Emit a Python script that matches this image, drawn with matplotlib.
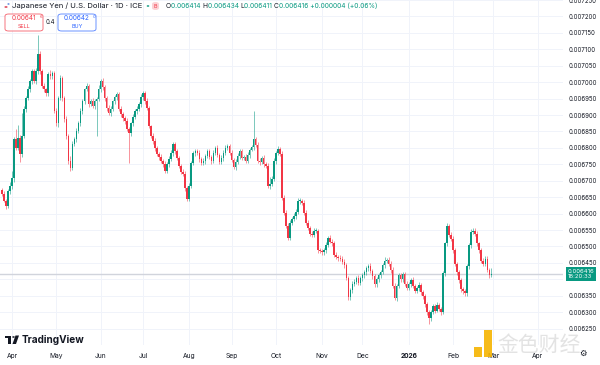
import numpy as np
import pandas as pd
import matplotlib.pyplot as plt
from matplotlib.patches import FancyBboxPatch, Rectangle, Circle, Polygon
from matplotlib.transforms import blended_transform_factory

plt.rcParams['font.family'] = ['Inter', 'DejaVu Sans']

# daily closes, JPY/USD in units of 1e-6 (from 2025-03-25)
closes = [
    6660, 6639, 6624, 6669, 6685, 6709, 6827, 6800, 6830, 6781, 6836, 6918, 6951, 6978, 7003, 7033, 7003, 7033, 7087, 7033,
    6987, 6978, 6966, 7024, 7018, 7027, 6912, 6875, 6951, 7012, 6951, 6887, 6836, 6760, 6739, 6812, 6827, 6851, 6875, 6912,
    6942, 6978, 6987, 6933, 6942, 6927, 6942, 6948, 6978, 7003, 6984, 6951, 6921, 6906, 6918, 6942, 6954, 6963, 6918, 6903,
    6890, 6881, 6857, 6845, 6875, 6894, 6912, 6918, 6933, 6954, 6966, 6942, 6921, 6866, 6836, 6821, 6800, 6781, 6772, 6760,
    6751, 6730, 6751, 6766, 6784, 6812, 6790, 6769, 6745, 6727, 6721, 6678, 6645, 6685, 6754, 6784, 6790, 6784, 6766, 6754,
    6760, 6775, 6790, 6772, 6760, 6785, 6800, 6778, 6757, 6770, 6785, 6800, 6806, 6785, 6763, 6742, 6757, 6775, 6790, 6770,
    6772, 6760, 6778, 6795, 6803, 6827, 6809, 6760, 6757, 6770, 6750, 6745, 6685, 6691, 6706, 6760, 6784, 6797, 6781, 6648,
    6603, 6563, 6527, 6572, 6584, 6593, 6606, 6639, 6639, 6633, 6603, 6572, 6557, 6539, 6536, 6548, 6548, 6488, 6485, 6482,
    6488, 6505, 6527, 6515, 6509, 6475, 6469, 6466, 6463, 6454, 6442, 6403, 6345, 6366, 6387, 6391, 6405, 6390, 6403, 6412,
    6421, 6433, 6440, 6425, 6409, 6385, 6400, 6412, 6421, 6442, 6457, 6460, 6448, 6427, 6381, 6342, 6381, 6412, 6400, 6415,
    6387, 6375, 6385, 6398, 6380, 6365, 6372, 6384, 6360, 6348, 6324, 6300, 6281, 6300, 6318, 6305, 6322, 6310, 6300, 6418,
    6509, 6563, 6536, 6524, 6488, 6448, 6421, 6397, 6369, 6363, 6357, 6439, 6503, 6545, 6548, 6539, 6509, 6488, 6457, 6448,
    6463, 6427, 6412, 6416,
]
first_open = 6672

# wick lengths above / below the candle body (1e-6)
upper_wick = [
    6, 8, 5, 7, 10, 20, 7, 30, 40, 8, 70, 9, 7, 10, 8, 7, 6, 10, 58, 8,
    7, 9, 5, 8, 12, 6, 7, 10, 7, 10, 8, 6, 9, 7, 14, 8, 6, 9, 7, 10,
    7, 5, 9, 8, 6, 10, 7, 6, 12, 8, 9, 6, 7, 8, 10, 5, 8, 7, 7, 9,
    6, 8, 10, 7, 5, 9, 7, 8, 7, 10, 8, 6, 9, 7, 5, 8, 10, 7, 7, 8,
    6, 10, 7, 8, 9, 5, 7, 8, 7, 6, 8, 10, 7, 9, 7, 6, 8, 7, 8, 5,
    9, 7, 8, 6, 7, 10, 7, 8, 5, 8, 7, 9, 6, 7, 8, 7, 8, 10, 6, 7,
    7, 8, 9, 6, 7, 85, 7, 8, 8, 6, 9, 7, 8, 20, 7, 10, 7, 8, 6, 9,
    8, 7, 9, 7, 6, 8, 7, 8, 9, 6, 7, 7, 8, 5, 8, 7, 9, 6, 7, 8,
    7, 8, 6, 8, 7, 9, 7, 6, 8, 7, 8, 7, 6, 8, 7, 9, 5, 7, 8, 7,
    8, 6, 7, 9, 7, 8, 6, 8, 7, 7, 10, 6, 8, 7, 9, 7, 6, 8, 7, 8,
    7, 7, 8, 6, 8, 7, 9, 7, 6, 8, 7, 8, 7, 6, 8, 7, 9, 7, 7, 8,
    6, 7, 5, 7, 8, 7, 6, 8, 7, 7, 6, 8, 7, 7, 8, 7, 8, 6, 7, 7,
    8, 9, 7, 18,
]
lower_wick = [
    7, 5, 10, 6, 8, 9, 12, 7, 8, 25, 9, 7, 8, 6, 7, 8, 7, 9, 8, 7,
    6, 8, 7, 9, 7, 8, 7, 8, 10, 6, 7, 7, 8, 9, 8, 7, 6, 8, 7, 7,
    8, 7, 6, 9, 7, 7, 8, 106, 6, 8, 7, 7, 8, 6, 8, 7, 9, 7, 6, 8,
    7, 8, 7, 90, 8, 7, 6, 9, 7, 8, 7, 8, 6, 7, 7, 8, 9, 7, 8, 7,
    8, 6, 7, 8, 7, 8, 9, 6, 7, 7, 8, 8, 7, 6, 8, 7, 8, 7, 8, 6,
    7, 8, 6, 7, 8, 7, 8, 6, 7, 7, 9, 8, 7, 8, 6, 7, 8, 7, 8, 7,
    8, 7, 7, 9, 6, 8, 7, 7, 8, 7, 8, 6, 7, 9, 7, 8, 8, 7, 7, 6,
    7, 8, 7, 6, 8, 7, 8, 7, 9, 7, 6, 8, 7, 7, 8, 8, 7, 7, 6, 8,
    7, 7, 8, 6, 8, 7, 7, 9, 8, 7, 7, 6, 8, 8, 7, 7, 6, 8, 7, 8,
    7, 8, 7, 6, 8, 7, 8, 7, 7, 6, 8, 7, 8, 7, 8, 6, 9, 7, 7, 8,
    7, 7, 8, 8, 6, 7, 7, 8, 7, 7, 8, 9, 17, 8, 7, 7, 6, 7, 8, 7,
    7, 8, 7, 6, 8, 7, 8, 7, 7, 9, 8, 7, 7, 8, 6, 8, 7, 7, 8, 7,
    7, 6, 8, 5,
]

price_ticks = np.arange(6250, 7251, 50) * 1e-6
month_names = ['Apr', 'May', 'Jun', 'Jul', 'Aug', 'Sep', 'Oct', 'Nov', 'Dec', '2026', 'Feb', 'Mar', 'Apr']

GREEN = '#089981'
RED = '#f23645'
TEXT = '#131722'
W, H = 600, 365

c = np.array(closes) * 1e-6
o = np.r_[first_open, closes[:-1]] * 1e-6
hi = np.maximum(o, c) + np.array(upper_wick) * 1e-6
lo = np.minimum(o, c) - np.array(lower_wick) * 1e-6
n = len(c)
idx = np.arange(n)
cols = np.where(c >= o, GREEN, RED)

fig = plt.figure(figsize=(6, 3.65), dpi=100)
ax = fig.add_axes([0, 20 / H, 563 / W, 345 / H])

# candles
ax.vlines(idx, lo, hi, colors=cols, linewidth=0.5, alpha=0.75, zorder=3)
ax.bar(idx, np.maximum(np.abs(c - o), 3e-6), bottom=np.minimum(o, c),
       width=0.75, color=cols, linewidth=0, zorder=3)

# last price line
ax.axhline(c[-1], color='#d1d4dc', linewidth=1.0, zorder=2)

ax.set_xlim(-0.96, 278.6)
ax.set_ylim(0.0062, 0.0072455)

# month ticks from the trading-day calendar
dates = pd.bdate_range('2025-03-25', periods=300)
starts = [i for i in range(1, len(dates)) if dates[i].month != dates[i - 1].month][:len(month_names)]
ax.set_xticks(starts)
ax.set_xticklabels(month_names)
for lab in ax.get_xticklabels():
    if lab.get_text() == '2026':
        lab.set_fontweight('bold')

# price scale; the label under the last-price box is hidden as in TradingView
ax.yaxis.tick_right()
ax.set_yticks(price_ticks)
ax.set_yticklabels(['' if abs(v - 0.0064) < 1e-9 else f'{v:.6f}' for v in price_ticks])
ax.tick_params(axis='y', length=0, pad=4, labelsize=4.4, colors=TEXT)
ax.tick_params(axis='x', length=0, pad=6, labelsize=4.8, colors=TEXT)
ax.grid(True, color='#f0f3fa', linewidth=0.7, zorder=0)
ax.set_axisbelow(True)
for s in ax.spines.values():
    s.set_visible(False)

# last price label on the scale
tr = blended_transform_factory(ax.transAxes, ax.transData)
ax.text(1.008, c[-1], '0.006416\n18:20:33', transform=tr, ha='left', va='center',
        fontsize=4.3, color='white', linespacing=1.15, zorder=10, clip_on=False,
        bbox=dict(boxstyle='square,pad=0.3', facecolor=GREEN, edgecolor='none'))

# header
fig.patches.append(Circle((6 / W, 1 - 7 / H), 1.6 / W, transform=fig.transFigure,
                          facecolor='#e05a6b', edgecolor='none'))
fig.patches.append(Circle((8.5 / W, 1 - 4 / H), 1.1 / W, transform=fig.transFigure,
                          facecolor='#3d6fd9', edgecolor='none'))
fig.text(12 / W, 1 - 6 / H, 'Japanese Yen / U.S. Dollar · 1D · ICE', fontsize=5.5,
         color=TEXT, va='center', ha='left')
fig.patches.append(Circle((148 / W, 1 - 6 / H), 1.3 / W, transform=fig.transFigure,
                          facecolor=GREEN, edgecolor='none'))
fig.patches.append(FancyBboxPatch((152 / W, 1 - 10 / H), 7 / W, 8 / H,
                                  boxstyle='round,pad=0,rounding_size=0.006',
                                  transform=fig.transFigure, facecolor='#fbd2d6', edgecolor='none'))
fig.text(155.5 / W, 1 - 6 / H, 'B', fontsize=3.8, color=RED, ha='center', va='center')

renderer = fig.canvas.get_renderer()
pieces = [('O', TEXT), ('0.006414 ', GREEN), ('H', TEXT), ('0.006434 ', GREEN),
          ('L', TEXT), ('0.006411 ', GREEN), ('C', TEXT), ('0.006416 +0.000004 (+0.06%)', GREEN)]
xpos = 166
for s, col in pieces:
    t = fig.text(xpos / W, 1 - 6 / H, s, fontsize=4.8, color=col, va='center', ha='left')
    xpos += t.get_window_extent(renderer).width

# sell / buy boxes
for x0, col, price, label in [(5, RED, '0.00641', 'SELL'), (58, '#2962ff', '0.00642', 'BUY')]:
    fig.patches.append(FancyBboxPatch((x0 / W, 1 - 31 / H), 38 / W, 17 / H,
                                      boxstyle='round,pad=0,rounding_size=0.006',
                                      transform=fig.transFigure, facecolor='white',
                                      edgecolor=col, linewidth=0.6, alpha=0.8))
    fig.text((x0 + 19) / W, 1 - 18 / H, price, fontsize=4.6, color=col, ha='center', va='center')
    fig.text((x0 + 19) / W, 1 - 26.5 / H, label, fontsize=3.9, color=col, ha='center', va='center')
fig.text(39.5 / W, 1 - 16.5 / H, '6', fontsize=3.0, color=RED, ha='left', va='center')
fig.text(92.5 / W, 1 - 16.5 / H, '0', fontsize=3.0, color='#2962ff', ha='left', va='center')
fig.text(50 / W, 1 - 22 / H, '0.4', fontsize=4.4, color=TEXT, ha='center', va='center')

# TradingView logo
fig.patches.append(Rectangle((5 / W, 1 - 338 / H), 6 / W, 2.5 / H, transform=fig.transFigure,
                             facecolor=TEXT, edgecolor='none'))
fig.patches.append(Rectangle((8 / W, 1 - 344 / H), 3 / W, 6 / H, transform=fig.transFigure,
                             facecolor=TEXT, edgecolor='none'))
fig.patches.append(Circle((13.5 / W, 1 - 337 / H), 1.3 / W, transform=fig.transFigure,
                          facecolor=TEXT, edgecolor='none'))
fig.patches.append(Polygon([(15.5 / W, 1 - 335.5 / H), (19 / W, 1 - 335.5 / H),
                            (16 / W, 1 - 344 / H), (12.5 / W, 1 - 344 / H)],
                           transform=fig.transFigure, facecolor=TEXT, edgecolor='none'))
fig.text(22 / W, 1 - 340 / H, 'TradingView', fontsize=7.2, fontweight='bold', color=TEXT,
         ha='left', va='center')

# watermark
fig.patches.append(Rectangle((474 / W, 1 - 357 / H), 8 / W, 10 / H, transform=fig.transFigure,
                             facecolor='#f5b400', edgecolor='none', alpha=0.9))
fig.patches.append(Rectangle((484 / W, 1 - 357 / H), 8 / W, 27 / H, transform=fig.transFigure,
                             facecolor='#f5b400', edgecolor='none', alpha=0.9))
fig.text(497 / W, 1 - 345 / H, '金色财经', fontsize=15, color='#e3e3e3', ha='left', va='center',
         family=['Noto Sans CJK SC', 'DejaVu Sans'])
fig.text(583 / W, 1 - 353 / H, '⚙', fontsize=6, color=TEXT, ha='center', va='center',
         family=['DejaVu Sans'])

fig.savefig('out.png', dpi=100)
